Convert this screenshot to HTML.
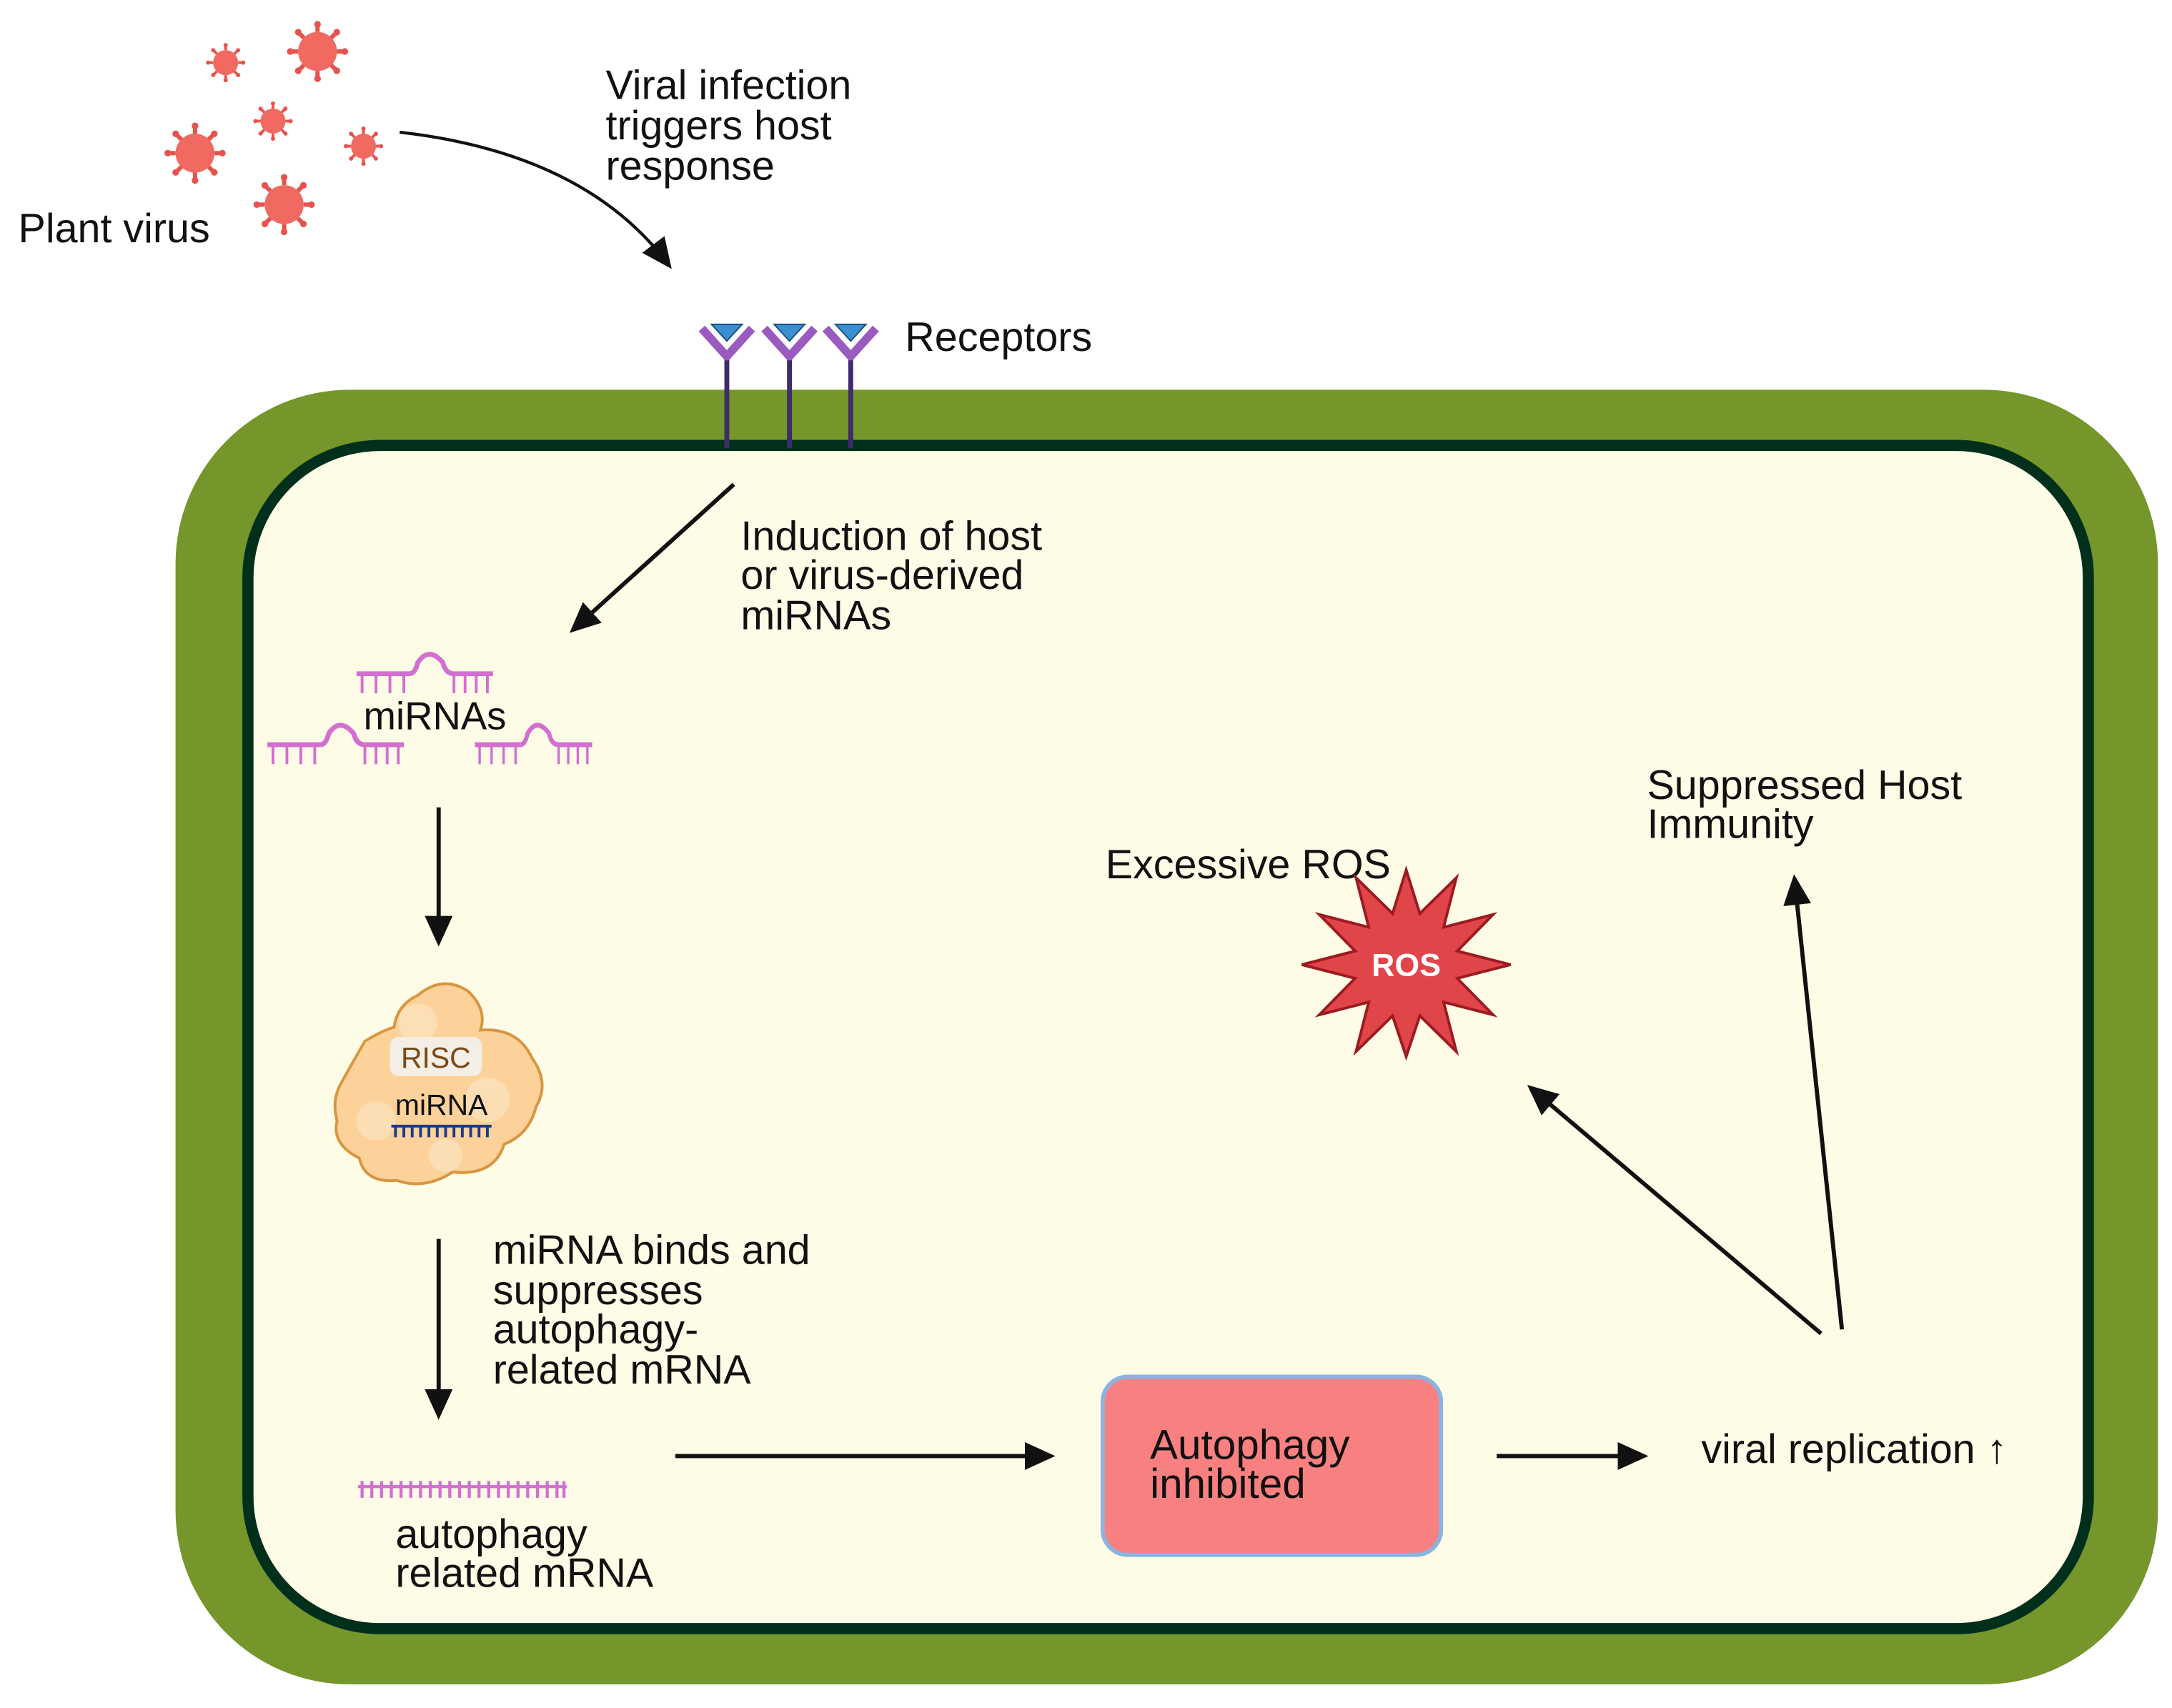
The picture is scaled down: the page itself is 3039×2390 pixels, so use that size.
<!DOCTYPE html>
<html><head><meta charset="utf-8"><style>
html,body{margin:0;padding:0;background:#fff}
svg{display:block}
text{font-family:"Liberation Sans",Arial,sans-serif;fill:#111}
</style></head><body>
<svg width="3039" height="2390" viewBox="0 0 1560 1227" xmlns="http://www.w3.org/2000/svg">
<defs>
<marker id="ah2" markerWidth="22" markerHeight="20" refX="18" refY="10" orient="auto" markerUnits="userSpaceOnUse"><path d="M0,0 L22,10 L0,20 z" fill="#111"/></marker>
<g id="vir">
<g stroke="#e8524e" stroke-width="0.22">
<line x1="0" y1="-1" x2="0" y2="-1.35"/><line x1="0" y1="1" x2="0" y2="1.35"/><line x1="-1" y1="0" x2="-1.35" y2="0"/><line x1="1" y1="0" x2="1.35" y2="0"/>
<line x1="0.7" y1="0.7" x2="0.96" y2="0.96"/><line x1="-0.7" y1="0.7" x2="-0.96" y2="0.96"/><line x1="0.7" y1="-0.7" x2="0.96" y2="-0.96"/><line x1="-0.7" y1="-0.7" x2="-0.96" y2="-0.96"/>
</g>
<g fill="#e8524e"><circle cx="0" cy="-1.4" r="0.17"/><circle cx="0" cy="1.4" r="0.17"/><circle cx="-1.4" cy="0" r="0.17"/><circle cx="1.4" cy="0" r="0.17"/><circle cx="0.99" cy="0.99" r="0.17"/><circle cx="-0.99" cy="0.99" r="0.17"/><circle cx="0.99" cy="-0.99" r="0.17"/><circle cx="-0.99" cy="-0.99" r="0.17"/></g>
<circle r="1" fill="#f06a62"/>
</g>
<g id="hp" stroke="#d36fd0" stroke-width="3.5" fill="none">
<path d="M0,0 H38 Q42,0 44,-8 Q52,-20 62,-8 Q64,0 70,0 H98"/>
<path d="M4,0 V14 M14,0 V14 M24,0 V14 M34,0 V14 M70,0 V14 M78,0 V14 M86,0 V14 M94,0 V14" stroke-width="2"/>
</g>
</defs>

<use href="#vir" transform="translate(162,45) scale(9)"/>
<use href="#vir" transform="translate(228,37) scale(14)"/>
<use href="#vir" transform="translate(196,87) scale(9)"/>
<use href="#vir" transform="translate(140,110) scale(14)"/>
<use href="#vir" transform="translate(261,105) scale(9)"/>
<use href="#vir" transform="translate(204,147) scale(14)"/>

<text x="13" y="174" font-size="29.5">Plant virus</text>
<text font-size="29.5"><tspan x="435" y="71">Viral infection</tspan><tspan x="435" y="100">triggers host</tspan><tspan x="435" y="129">response</tspan></text>
<path d="M287,95 Q420,110 480,190" stroke="#111" stroke-width="2.2" fill="none" marker-end="url(#ah2)"/>

<rect x="126" y="280" width="1424" height="930" rx="125" fill="#74962a"/>
<rect x="178" y="320" width="1322" height="850" rx="95" fill="#fefbe6" stroke="#00301c" stroke-width="8"/>

<g stroke="#3d2b6b" stroke-width="3.5"><line x1="522" y1="255" x2="522" y2="322"/><line x1="567" y1="255" x2="567" y2="322"/><line x1="611" y1="255" x2="611" y2="322"/></g>
<g stroke="#9a5ac0" stroke-width="6" fill="none" stroke-linejoin="round">
<path d="M504,236 L522,256 L540,236"/><path d="M549,236 L567,256 L585,236"/><path d="M593,236 L611,256 L629,236"/></g>
<g fill="#3a8fd0" stroke="#1a4f7a" stroke-width="1"><path d="M511,233 H533 L522,245 z"/><path d="M556,233 H578 L567,245 z"/><path d="M600,233 H622 L611,245 z"/></g>
<text x="650" y="252" font-size="29.5">Receptors</text>

<path d="M527,348 L412,452" stroke="#111" stroke-width="3" marker-end="url(#ah2)"/>
<text font-size="29.5"><tspan x="532" y="395">Induction of host</tspan><tspan x="532" y="423">or virus-derived</tspan><tspan x="532" y="452">miRNAs</tspan></text>

<use href="#hp" transform="translate(256,484)"/>
<use href="#hp" transform="translate(192,535)"/>
<use href="#hp" transform="translate(341,535) scale(0.86,1)"/>
<text x="261" y="524" font-size="28">miRNAs</text>

<path d="M315,580 V676" stroke="#111" stroke-width="3" marker-end="url(#ah2)"/>

<path d="M300,715 Q318,700 336,712 Q350,725 345,740 Q372,738 382,760 Q395,778 385,795 Q380,815 362,822 Q355,845 325,842 Q305,855 285,848 Q262,850 258,832 Q238,822 242,805 Q238,790 245,778 Q255,760 262,748 Q275,740 283,738 Q285,722 300,715 z" fill="#fcd29a" stroke="#d89540" stroke-width="2"/>
<g fill="#fde2bb" opacity="0.8"><circle cx="300" cy="735" r="14"/><circle cx="350" cy="790" r="16"/><circle cx="270" cy="805" r="14"/><circle cx="320" cy="830" r="12"/></g>
<rect x="280" y="745" width="66" height="28" rx="6" fill="#f3eee6"/>
<text x="313" y="767" font-size="21" text-anchor="middle" style="fill:#7a4a16">RISC</text>
<text x="317" y="801" font-size="21" text-anchor="middle">miRNA</text>
<path d="M281,809 H353 M284,809 V817 M290,809 V817 M296,809 V817 M302,809 V817 M308,809 V817 M314,809 V817 M320,809 V817 M326,809 V817 M332,809 V817 M338,809 V817 M344,809 V817 M350,809 V817" stroke="#1b3a8a" stroke-width="2"/>

<path d="M315,890 V1016" stroke="#111" stroke-width="3" marker-end="url(#ah2)"/>
<text font-size="29.5"><tspan x="354" y="908">miRNA binds and</tspan><tspan x="354" y="937">suppresses</tspan><tspan x="354" y="965">autophagy-</tspan><tspan x="354" y="994">related mRNA</tspan></text>

<path d="M257,1068 H407 M260,1064 V1076 M267,1064 V1076 M274,1064 V1076 M281,1064 V1076 M288,1064 V1076 M295,1064 V1076 M302,1064 V1076 M309,1064 V1076 M316,1064 V1076 M323,1064 V1076 M330,1064 V1076 M337,1064 V1076 M344,1064 V1076 M351,1064 V1076 M358,1064 V1076 M365,1064 V1076 M372,1064 V1076 M379,1064 V1076 M386,1064 V1076 M393,1064 V1076 M400,1064 V1076 M405,1064 V1076" stroke="#d36fd0" stroke-width="2.2"/>
<text font-size="29.5"><tspan x="284" y="1112">autophagy</tspan><tspan x="284" y="1140">related mRNA</tspan></text>

<path d="M485,1046 H754" stroke="#111" stroke-width="3" marker-end="url(#ah2)"/>
<rect x="792" y="989" width="243" height="128" rx="18" fill="#f98080" stroke="#8ab4e0" stroke-width="3"/>
<text font-size="30"><tspan x="826" y="1048">Autophagy</tspan><tspan x="826" y="1076">inhibited</tspan></text>
<path d="M1075,1046 H1180" stroke="#111" stroke-width="3" marker-end="url(#ah2)"/>
<text x="1222" y="1051" font-size="29.5">viral replication ↑</text>

<path d="M1308,958 L1100,782" stroke="#111" stroke-width="3" marker-end="url(#ah2)"/>
<path d="M1323,955 L1289,632" stroke="#111" stroke-width="3" marker-end="url(#ah2)"/>
<text font-size="29.5"><tspan x="1183" y="574">Suppressed Host</tspan><tspan x="1183" y="602">Immunity</tspan></text>
<text x="794" y="631" font-size="29.5">Excessive ROS</text>

<g transform="translate(1010,693)">
<polygon points="0,-68 9.8,-36.7 36,-62.4 26.9,-26.9 62.4,-36 36.7,-9.8 75,0 36.7,9.8 62.4,36 26.9,26.9 36,62.4 9.8,36.7 0,66 -9.8,36.7 -36,62.4 -26.9,26.9 -62.4,36 -36.7,9.8 -75,0 -36.7,-9.8 -62.4,-36 -26.9,-26.9 -36,-62.4 -9.8,-36.7" fill="#e0454a" stroke="#9c1a20" stroke-width="2"/>
<text x="0" y="8" font-size="23" font-weight="bold" text-anchor="middle" style="fill:#fff">ROS</text>
</g>
</svg>
</body></html>
